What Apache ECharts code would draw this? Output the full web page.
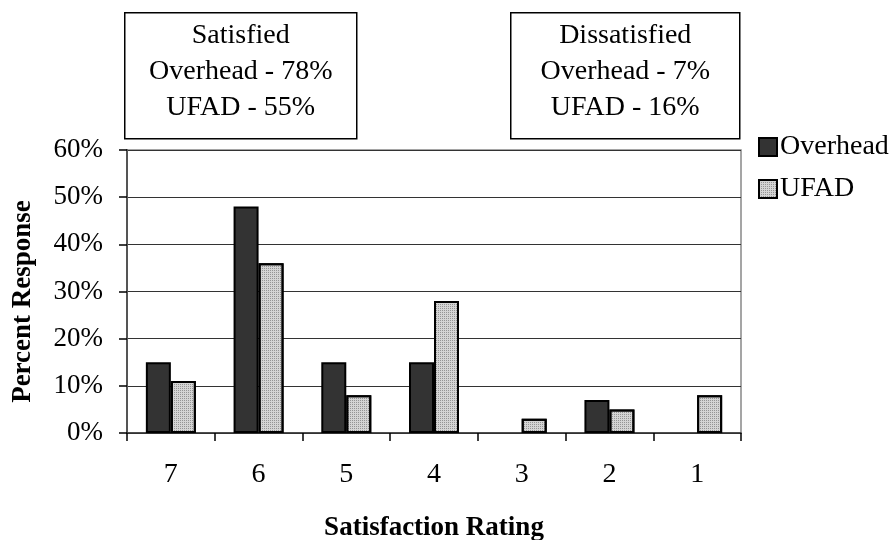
<!DOCTYPE html>
<html>
<head>
<meta charset="utf-8">
<script src="https://cdn.jsdelivr.net/npm/echarts@6/dist/echarts.min.js"></script>
<style>
  * { margin: 0; padding: 0; }
  body { background: #fff; }
</style>
</head>
<body>
<div id="main" style="width:896px;height:540px;"></div>
<script>
  // 数据
  var ratings = ['7', '6', '5', '4', '3', '2', '1'];
  var overhead = [15, 48, 15, 15, 0, 7, 0];
  var ufad = [11, 36, 8, 28, 3, 5, 8];
  var yTicks = [0, 10, 20, 30, 40, 50, 60];
  var satisfiedLines = ['Satisfied', 'Overhead - 78%', 'UFAD - 55%'];
  var dissatisfiedLines = ['Dissatisfied', 'Overhead - 7%', 'UFAD - 16%'];

  var font = '"Liberation Serif", "Times New Roman", serif';

  // 0值的柱子不画边框
  function barData (arr) {
    return arr.map(function (v) {
      return v === 0 ? { value: v, itemStyle: { borderWidth: 0 } } : v;
    });
  }

  function noteBox (x, w, lines) {
    return {
      type: 'group',
      left: x,
      top: 12,
      children: [
        {
          type: 'rect',
          shape: { x: 0, y: 0, width: w, height: 126 },
          style: { fill: '#fff', stroke: '#000', lineWidth: 1.5 }
        },
        {
          type: 'text',
          x: w / 2,
          y: 59,
          style: {
            text: lines.join('\n'),
            fontFamily: font,
            fontSize: 28,
            lineHeight: 36,
            fill: '#000',
            align: 'center',
            verticalAlign: 'middle'
          }
        }
      ]
    };
  }

  var chart = echarts.init(document.getElementById('main'));
  chart.setOption({
    animation: false,
    textStyle: { fontFamily: font, color: '#000' },
    grid: {
      left: 127,
      right: 155,
      top: 150,
      bottom: 107,
      outerBoundsMode: 'none',
      show: true,
      borderColor: '#888',
      borderWidth: 1.5
    },
    legend: {
      orient: 'vertical',
      left: 753,
      top: 128,
      itemWidth: 18,
      itemHeight: 18,
      itemGap: 14,
      icon: 'rect',
      textStyle: { fontFamily: font, fontSize: 28, color: '#000', padding: [0, 0, 0, -2] },
      data: ['Overhead', 'UFAD']
    },
    xAxis: {
      type: 'category',
      data: ratings,
      name: 'Satisfaction Rating',
      nameLocation: 'middle',
      nameGap: 82,
      nameTextStyle: { fontFamily: font, fontSize: 27, fontWeight: 'bold', color: '#000' },
      axisLine: { lineStyle: { color: '#333', width: 1.5 } },
      axisTick: { show: true, length: 8, lineStyle: { color: '#000', width: 1.5 } },
      axisLabel: { margin: 28, fontFamily: font, fontSize: 28, color: '#000' }
    },
    yAxis: {
      type: 'value',
      min: 0,
      max: 60,
      interval: 10,
      name: 'Percent Response',
      nameLocation: 'middle',
      nameGap: 90,
      nameTextStyle: {
        fontFamily: font, fontSize: 27, fontWeight: 'bold', color: '#000',
        padding: [0, 20, 0, 0]
      },
      axisLine: { show: true, lineStyle: { color: '#555', width: 2 } },
      axisTick: { show: true, length: 8, lineStyle: { color: '#000', width: 1.5 } },
      axisLabel: {
        margin: 24,
        fontFamily: font,
        fontSize: 27,
        color: '#000',
        formatter: function (v) { return yTicks.indexOf(v) >= 0 ? v + '%' : ''; }
      },
      splitLine: { lineStyle: { color: '#333', width: 1.2 } }
    },
    series: [
      {
        name: 'Overhead',
        type: 'bar',
        data: barData(overhead),
        barGap: '0%',
        barCategoryGap: '43%',
        itemStyle: { color: '#333333', borderColor: '#000', borderWidth: 2 }
      },
      {
        name: 'UFAD',
        type: 'bar',
        data: barData(ufad),
        itemStyle: {
          color: '#d4d4d4',
          borderColor: '#000',
          borderWidth: 2,
          decal: {
            symbol: 'rect',
            symbolSize: 1,
            dashArrayX: [1, 1],
            dashArrayY: [1, 1],
            color: 'rgba(0,0,0,0.3)'
          }
        }
      }
    ],
    graphic: [
      noteBox(124, 232, satisfiedLines),
      noteBox(510, 229, dissatisfiedLines)
    ]
  });
</script>
</body>
</html>
